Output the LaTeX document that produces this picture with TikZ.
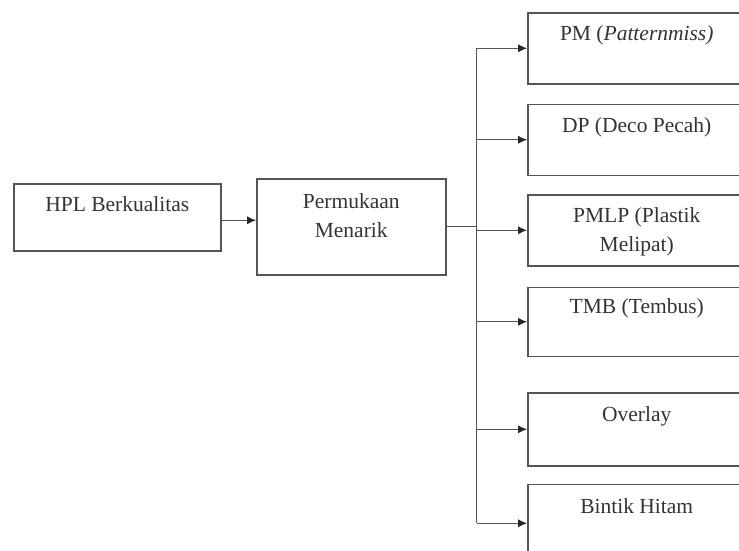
\documentclass[tikz,border=0pt]{standalone}
\usepackage{fontspec}
\setmainfont{Liberation Serif}
\usetikzlibrary{positioning, arrows.meta}
\definecolor{lineGray}{HTML}{555555}
\definecolor{textGray}{HTML}{333333}

\begin{document}
\begin{tikzpicture}[x=1pt, y=-1pt,
    box/.style={draw=lineGray, line width=1.5pt, inner sep=0pt, align=center,
                text=textGray, font=\fontsize{21.5}{29}\selectfont},
    catbox/.style={box, minimum width=218pt, text height=28pt, text depth=43pt},
    arr/.style={-{Latex[length=9pt, width=8pt, color=black!85]}, line width=0.8pt, draw=lineGray},
    link/.style={line width=0.8pt, draw=lineGray},
]
\useasboundingbox (0,0) rectangle (739,550);

\node[box, anchor=north west, minimum width=207pt, text height=28pt, text depth=39pt]
    (hpl) at (13,183) {HPL Berkualitas};
\node[box, anchor=north west, minimum width=189pt, text height=59pt, text depth=37pt]
    (mid) at (256,178) {Permukaan\\Menarik};

% kategori cacat
\node[catbox, anchor=north west] (pm) at (527,12) {PM (\textit{Patternmiss)}};
\node[catbox, below=19pt of pm] (dp) {DP (Deco Pecah)};
\node[catbox, below=18pt of dp, text height=57pt, text depth=14pt] (pmlp) {PMLP (Plastik\\Melipat)};
\node[catbox, below=20pt of pmlp, text height=26pt] (tmb) {TMB (Tembus)};
\node[catbox, below=35pt of tmb, text height=29pt, text depth=44pt] (ov) {Overlay};
\node[catbox, below=17pt of ov, text height=29pt, text depth=49pt] (bh) {Bintik Hitam};

\coordinate[right=30pt of mid.east] (split);

\draw[arr] ([yshift=-3pt]hpl.east) -- ([yshift=-3pt]hpl.east -| mid.west);
\draw[link] (mid.east) -- (split);
\draw[link] (split |- pm.west) -- (split |- bh.west);
\foreach \n in {pm, dp, pmlp, tmb, ov, bh}
    \draw[arr] (split |- \n.west) -- (\n.west);
\end{tikzpicture}
\end{document}
